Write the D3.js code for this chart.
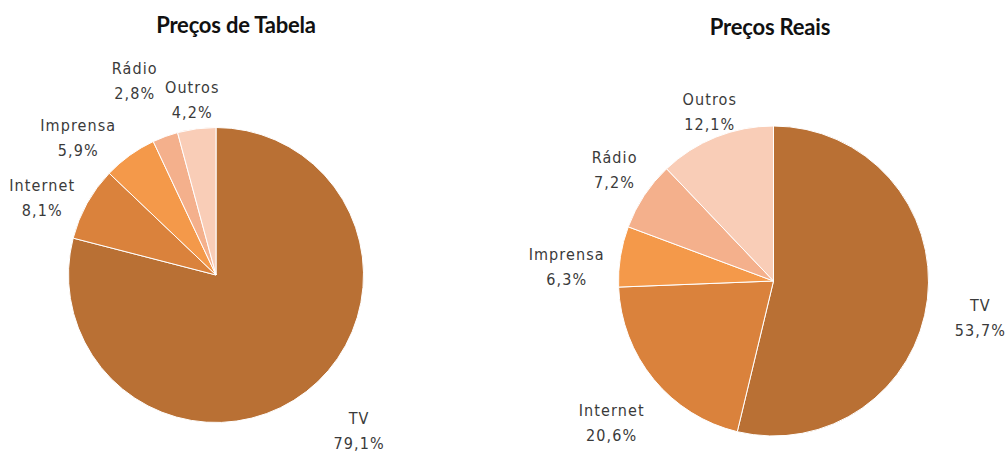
<!DOCTYPE html>
<html><head><meta charset="utf-8">
<script src="https://cdn.jsdelivr.net/npm/d3@7/dist/d3.min.js"></script>
<style>
html,body{margin:0;padding:0;background:#fff;}
svg{display:block;}
.title{font-family:Lato,"Open Sans",sans-serif;font-weight:bold;font-size:22px;fill:#111;letter-spacing:-0.2px;}
.lbl{font-family:"DejaVu Sans Condensed","DejaVu Sans",sans-serif;font-size:16px;fill:#3a3a3a;letter-spacing:1.1px;}
</style></head>
<body>
<svg id="c" width="1006" height="454"></svg>
<script>
const categories = ["TV", "Internet", "Imprensa", "Rádio", "Outros"];
const tabelaValues = [79.1, 8.1, 5.9, 2.8, 4.2];
const reaisValues = [53.7, 20.6, 6.3, 7.2, 12.1];
const chartTitles = ["Preços de Tabela", "Preços Reais"];
const colors = ["#B97034", "#DA823C", "#F4994A", "#F4B08C", "#F9CDB7"];

// layout (positions / label nudges kept apart from the data)
const layout = [
  {cx: 216, cy: 275, r: 147.5, tx: 236, ty: 33, values: tabelaValues, title: chartTitles[0],
   nudges: [[28,8],[-4,18],[-24,21],[-18,-21],[0,5]]},
  {cx: 773.5, cy: 281, r: 155, tx: 770, ty: 35, values: reaisValues, title: chartTitles[1],
   nudges: [[17,15],[-6,15],[-6,19],[3,-4],[8,11]]}
];
const lineH = 25, gap = 10, fontPx = 15;

const svg = d3.select("#c");
const color = d3.scaleOrdinal().domain(categories).range(colors);
const fmt = v => d3.format(".1f")(v).replace(".", ",") + "%";

layout.forEach(L => {
  const data = categories.map((c, i) => ({cat: c, value: L.values[i], i}));
  const pie = d3.pie().sort(null).value(d => d.value);
  const arcs = pie(data);
  const arc = d3.arc().innerRadius(0).outerRadius(L.r);
  const g = svg.append("g").attr("transform", `translate(${L.cx},${L.cy})`);
  g.selectAll("path").data(arcs).join("path")
    .attr("d", arc)
    .attr("fill", d => color(d.data.cat))
    .attr("stroke", "#fff").attr("stroke-width", 1);

  svg.append("text").attr("class", "title")
    .attr("x", L.tx).attr("y", L.ty).attr("text-anchor", "middle").text(L.title);

  arcs.forEach(a => {
    const t = g.append("text").attr("class", "lbl").attr("text-anchor", "middle");
    t.append("tspan").attr("x", 0).attr("dy", 0).text(a.data.cat);
    t.append("tspan").attr("x", 0).attr("dy", lineH).text(fmt(a.data.value));
    const bb = t.node().getBBox();
    const w = bb.width * 15 / 16, h = lineH + fontPx;
    const m = (a.startAngle + a.endAngle) / 2;
    const sx = Math.sin(m), sy = -Math.cos(m);
    const ext = Math.abs(sx) * w / 2 + Math.abs(sy) * h / 2;
    const rr = L.r + gap + ext;
    const nx = L.nudges[a.data.i];
    const x = sx * rr + nx[0], y = sy * rr + nx[1];
    t.attr("transform", `translate(${x},${y - lineH / 2 + 5})`);
  });
});
</script>
</body></html>
